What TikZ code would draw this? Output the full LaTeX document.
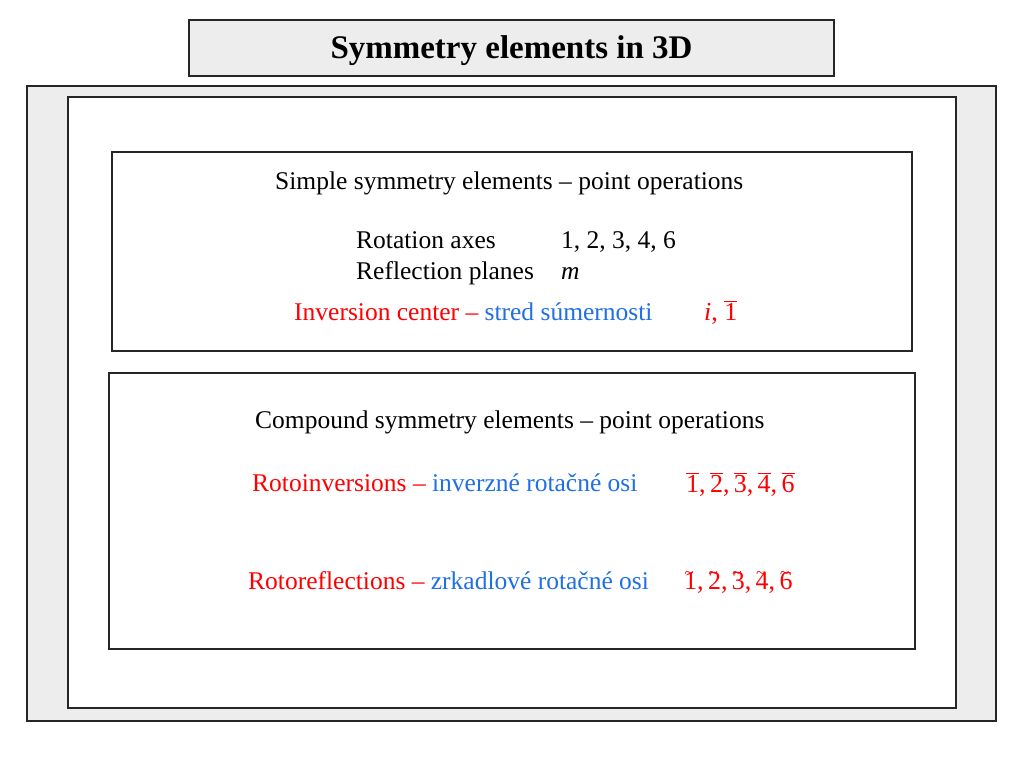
\documentclass[tikz,border=0pt]{standalone}
\usepackage{fontspec}
\setmainfont{Liberation Serif}
\newcommand\mytld[1]{\makebox[0pt][l]{\hspace{0.02em}\raisebox{0.42em}{\fontsize{17}{17}\selectfont\char`\~}}#1}
\begin{document}
\begin{tikzpicture}[x=1pt,y=-1pt,
  box/.style={draw=black!85,line width=1.8pt},
  txt/.style={anchor=base west,font=\fontsize{25.5}{28}\selectfont,inner sep=0pt},
  sym/.style={anchor=base west,font=\fontsize{26}{28}\selectfont,inner sep=0pt,text=red}]
\definecolor{myblue}{HTML}{1F6FE5}
\useasboundingbox (0,0) rectangle (1024,768);
\draw[box,fill=black!7] (189,20) rectangle (834,76);
\node[anchor=base,inner sep=0pt,font=\bfseries\fontsize{33}{36}\selectfont] (title) at (511.5,59) {Symmetry elements in 3D};
\draw[box,fill=black!7] (27,86) rectangle (996,721);
\draw[box,fill=white] (68,97) rectangle (956,708);
\draw[box,fill=white] (112,152) rectangle (912,351);
\draw[box,fill=white] (109,373) rectangle (915,649);
\node[txt] (s1) at (275,189) {Simple symmetry elements -- point operations};
\node[txt] (r1) at (356,248) {Rotation axes};
\node[txt] (r2) at (561,248) {1, 2, 3, 4, 6};
\node[txt] (p1) at (356,279) {Reflection planes};
\node[txt] (p2) at (561,279) {\itshape m};
\node[txt] (i1) at (294,320) {\textcolor{red}{Inversion center --} \textcolor{myblue}{stred súmernosti}};
\node[sym] (i2) at (704,320) {\textit{i}, $\overline{\mbox{1}}$};
\node[txt] (c1) at (255,428) {Compound symmetry elements -- point operations};
\node[txt] (ro1) at (252,491) {\textcolor{red}{Rotoinversions --} \textcolor{myblue}{inverzné rotačné osi}};
\node[sym] (ro2) at (686,492) {$\overline{\mbox{1}}$,\,$\overline{\mbox{2}}$,\,$\overline{\mbox{3}}$,\,$\overline{\mbox{4}}$,\,$\overline{\mbox{6}}$};
\node[txt] (rr1) at (248,589) {\textcolor{red}{Rotoreflections --} \textcolor{myblue}{zrkadlové rotačné osi}};
\node[sym] (rr2) at (684,589) {\mytld{1},\,\mytld{2},\,\mytld{3},\,\mytld{4},\,\mytld{6}};
\end{tikzpicture}
\end{document}
